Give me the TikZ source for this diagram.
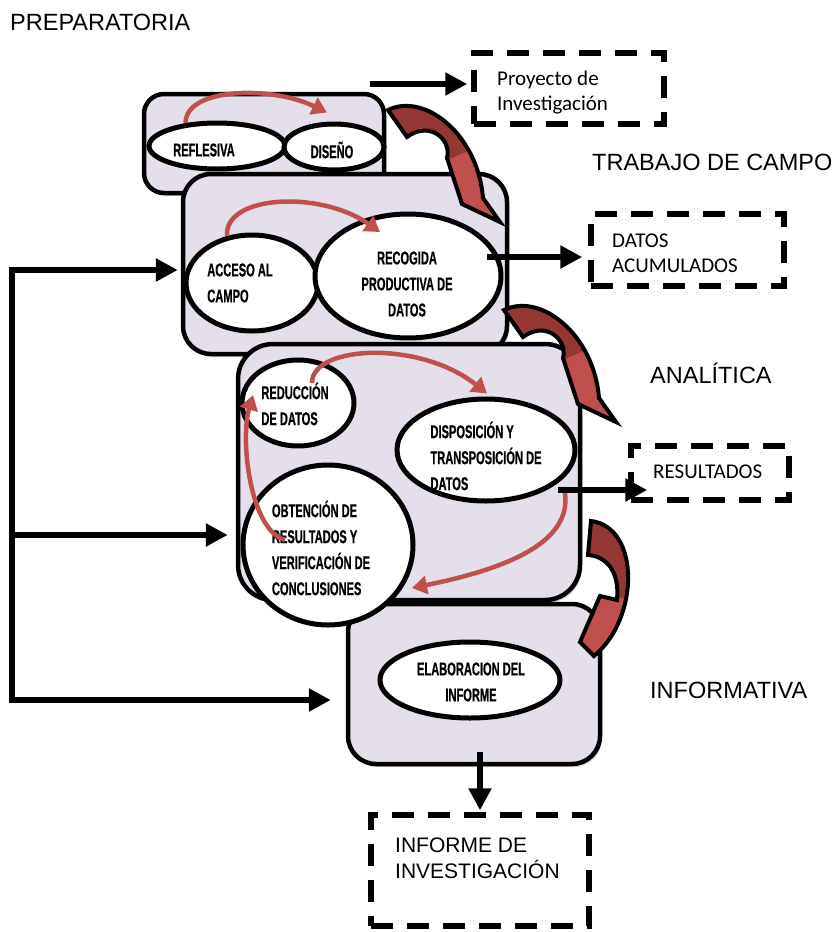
\documentclass[tikz,border=0pt]{standalone}
\usepackage{fontspec}
\setmainfont{Liberation Sans}
\newfontfamily\condfont[FakeStretch=0.6,FakeBold=0.6]{Liberation Sans}
\newfontfamily\calfont{Carlito}
\usetikzlibrary{arrows.meta,calc,shapes.geometric,shadows}

\definecolor{lavender}{HTML}{E5DFEC}
\definecolor{accred}{HTML}{C0504D}
\definecolor{deepred}{HTML}{943634}

% curved 3-D style arrow between two stages (drawn at its own place, shifted by #1)
\newcommand\stagecurl[1]{%
  \begin{scope}[shift={#1}]
    \begin{scope}
      \clip (388,110) .. controls (425,92) and (478,135) .. (483,198) -- (500,222)
            -- (462,204) -- (447,158) .. controls (452,140) and (430,120) .. (407,137) -- cycle;
      \fill[accred] (380,90) rectangle (505,230);
      \fill[deepred] (370,80) -- (510,80) -- (470,150) -- (447,160) -- (370,160) -- cycle;
    \end{scope}
    \draw[line width=4pt, line join=miter]
      (388,110) .. controls (425,92) and (478,135) .. (483,198) -- (500,222)
      -- (462,204) -- (447,158) .. controls (452,140) and (430,120) .. (407,137) -- cycle;
  \end{scope}}

\begin{document}
\begin{tikzpicture}[x=1pt,y=-1pt,
  stagebox/.style={rectangle, draw=black, line width=4.5pt, fill=lavender,
    rounded corners=#1, inner sep=0pt,
    drop shadow={shadow xshift=2pt, shadow yshift=-3pt, fill=black, opacity=0.18}},
  stagebox/.default=25pt,
  oval/.style={ellipse, draw=black, line width=5pt, fill=white, inner sep=0pt},
  lbl/.style={font=\condfont\bfseries\fontsize{18.5}{26}\selectfont, align=left, inner sep=0pt},
  lblc/.style={lbl, align=center},
  stagelbl/.style={font=\fontsize{23.5}{28}\selectfont, inner sep=0pt, anchor=base west},
  outlbl/.style={font=\calfont\fontsize{21}{25}\selectfont, inner sep=0pt, anchor=base west},
  dashbox/.style={rectangle, draw=black, line width=5.5pt, dash pattern=on 22pt off 14pt, inner sep=0pt},
  blackarrow/.style={line width=6pt, -{Triangle[length=22pt,width=22pt]}},
  redarrow/.style={draw=accred, line width=4.5pt, -{Triangle[length=15pt,width=18pt]}},
]
\useasboundingbox (0,0) rectangle (840,932);

% stage frames
\node[stagebox=20pt, minimum width=240pt, minimum height=99pt] (b1) at (264,143.5) {};
\node[stagebox=28pt, minimum width=324pt, minimum height=180pt] (b2) at (345,264) {};
\node[stagebox=35pt, minimum width=342pt, minimum height=256pt] (b3) at (409,472) {};
\node[stagebox=28pt, minimum width=252pt, minimum height=160pt] (b4) at (474,684) {};

% activities
\node[oval, minimum width=136pt, minimum height=46pt] (reflesiva) at (217,146) {};
\node[oval, minimum width=100pt, minimum height=46pt] (diseno) at (334,147) {};
\node[oval, minimum width=132pt, minimum height=96pt] (acceso) at (252,283) {};
\node[oval, minimum width=186pt, minimum height=124pt] (recogida) at (408,276) {};
\node[oval, minimum width=112pt, minimum height=86pt] (reduccion) at (298,403) {};
\node[oval, minimum width=178pt, minimum height=102pt] (disposicion) at (486,450) {};
\node[oval, minimum width=170pt, minimum height=160pt] (obtencion) at (328,545) {};
\node[oval, minimum width=180pt, minimum height=76pt] (elaboracion) at (470,680) {};

\node[lbl] (t-reflesiva) at (204,150) {REFLESIVA};
\node[lbl] (t-diseno) at (332,150) {DISEÑO};
\node[lbl] (t-acceso) at (240,283) {ACCESO AL\\CAMPO};
\node[lblc] (t-recogida) at (407,284) {RECOGIDA\\PRODUCTIVA DE\\DATOS};
\node[lbl] (t-reduccion) at (295,404) {REDUCCIÓN\\DE DATOS};
\node[lbl] (t-disposicion) at (486,456) {DISPOSICIÓN Y\\TRANSPOSICIÓN DE\\DATOS};
\node[lbl] (t-obtencion) at (321,548) {OBTENCIÓN DE\\RESULTADOS Y\\VERIFICACIÓN DE\\CONCLUSIONES};
\node[lblc] (t-elaboracion) at (471,682) {ELABORACION DEL\\INFORME};

% flow inside each stage
\draw[redarrow] (reflesiva.144) .. controls (185,88) and (270,85) .. ($(diseno.north)+(-7,-9)$);
\draw[redarrow] (acceso.118) .. controls (224,195) and (320,190) .. ($(recogida.center)+(-28,-44)$);
\draw[redarrow] ($(reduccion.center)+(14,-20)$) .. controls (312,345) and (420,340) .. ($(disposicion.north)+(1,-3)$);
\draw[redarrow] ($(disposicion.center)+(79,43)$) .. controls (572,545) and (500,570) .. ($(obtencion.center)+(84,43)$);
\draw[redarrow] ($(obtencion.center)+(-43,-5)$) .. controls (250,530) and (240,440) .. ($(reduccion.center)+(-45,-8)$);

% passage from one stage to the next
\stagecurl{(0,0)}
\stagecurl{(116,200)}
\begin{scope}
  \clip (591,521) .. controls (640,527) and (640,618) .. (594,656) -- (580,642) -- (600,596)
        -- (617,600) .. controls (620,570) and (605,556) .. (588,555) -- cycle;
  \fill[accred] (570,510) rectangle (660,670);
  \fill[deepred] (570,510) rectangle (660,598);
\end{scope}
\draw[line width=4pt, line join=miter]
  (591,521) .. controls (640,527) and (640,618) .. (594,656) -- (580,642) -- (600,596)
  -- (617,600) .. controls (620,570) and (605,556) .. (588,555) -- cycle;

% stage names
\node[stagelbl] (n-prep) at (10,30) {PREPARATORIA};
\node[stagelbl] (n-campo) at (592,170) {TRABAJO DE CAMPO};
\node[stagelbl] (n-anal) at (650,383) {ANALÍTICA};
\node[stagelbl] (n-info) at (650,698) {INFORMATIVA};

% products
\node[dashbox, minimum width=190pt, minimum height=71pt] (proy) at (569,88.5) {};
\node[outlbl] (t-proy1) at (497,85) {Proyecto de};
\node[outlbl] (t-proy2) at (497,110) {Investigación};
\node[dashbox, minimum width=193pt, minimum height=72pt] (datos) at (687.5,250) {};
\node[outlbl] (t-datos1) at (612,247) {DATOS};
\node[outlbl] (t-datos2) at (612,272) {ACUMULADOS};
\node[dashbox, minimum width=158pt, minimum height=54pt] (result) at (710,473) {};
\node[outlbl] (t-result) at (653,478) {RESULTADOS};
\node[dashbox, minimum width=218pt, minimum height=111pt] (informe) at (480,870.5) {};
\node[stagelbl, font=\fontsize{21}{25}\selectfont] (t-inf1) at (395,852) {INFORME DE};
\node[stagelbl, font=\fontsize{21}{25}\selectfont] (t-inf2) at (395,878) {INVESTIGACIÓN};

% outputs of the stages
\coordinate (proyfrom) at (370,84);
\draw[blackarrow, shorten >=4pt] (proyfrom) -- (proyfrom -| proy.west);
\coordinate (datosfrom) at ($(recogida.center)+(79,-19)$);
\draw[blackarrow, shorten >=6pt] (datosfrom) -- (datosfrom -| datos.west);
\coordinate (resultfrom) at ($(disposicion.center)+(72,40)$);
\draw[blackarrow, shorten >=-19pt] (resultfrom) -- (resultfrom -| result.west);
\coordinate (downfrom) at (480,752);
\draw[blackarrow, shorten >=2pt] (downfrom) -- (downfrom |- informe.north);

% feedback loop
\coordinate (fbA) at (12,270);
\coordinate (fbB) at (12,535);
\coordinate (fbC) at (12,700);
\draw[line width=6pt, line join=miter,
      {Triangle[length=22pt,width=22pt]}-{Triangle[length=22pt,width=22pt]},
      shorten <=3pt, shorten >=15pt]
  (fbA -| b2.west) -- (fbA) -- (fbC) -- (fbC -| b4.west);
\draw[blackarrow, shorten >=8pt] (fbB) -- (fbB -| b3.west);
\end{tikzpicture}
\end{document}
